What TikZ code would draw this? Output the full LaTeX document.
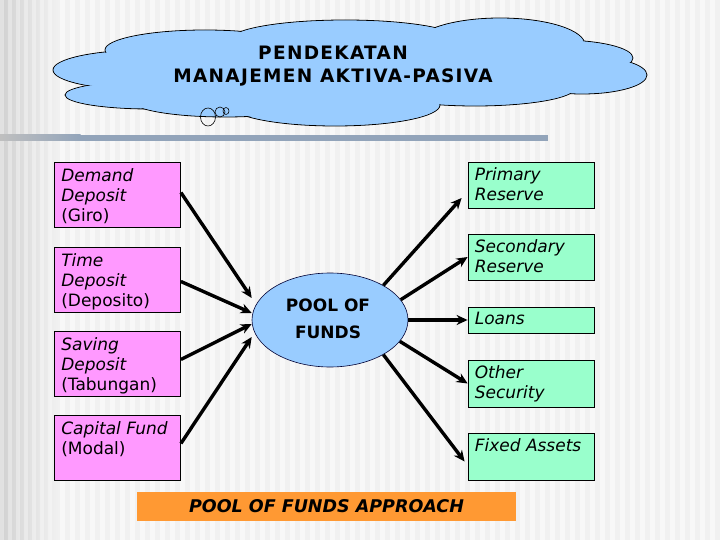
\documentclass[tikz,border=0pt]{standalone}
\usepackage{fontspec}
\setmainfont{DejaVu Sans}
\newfontfamily\titlefont[LetterSpace=7]{DejaVu Sans}
\usetikzlibrary{arrows.meta,shapes.geometric}
\definecolor{pinkbox}{HTML}{FF99FF}
\definecolor{greenbox}{HTML}{99FFCC}
\definecolor{bluefill}{HTML}{99CCFF}
\definecolor{orangec}{HTML}{FF9933}
\definecolor{bgbase}{HTML}{F1F1F1}
\definecolor{bgstripe}{HTML}{F8F8F8}
\definecolor{barc}{RGB}{146,164,186}
\tikzset{
  lbox/.style={draw=black, line width=0.8pt, fill=pinkbox, minimum width=126pt, inner sep=0pt},
  rbox/.style={draw=black, line width=0.8pt, fill=greenbox, minimum width=126pt, inner sep=0pt},
  boxtext/.style={anchor=north west, inner sep=0pt, align=left, font=\fontsize{17}{20}\selectfont},
  arr/.style={line width=3.4pt, -{Stealth[length=11pt,width=10pt]}},
  cloudline/.style={draw=black, line width=0.8pt, fill=bluefill},
}
\begin{document}
\begin{tikzpicture}[x=1pt,y=-1pt]
\useasboundingbox (0,0) rectangle (720,540);
% background
\fill[bgbase] (0,0) rectangle (720,540);
\foreach \x in {0,10,...,710} { \fill[bgstripe] (\x,0) rectangle (\x+5,540); }
\fill[left color=black!18, right color=bgbase] (0,0) rectangle (58,540);
\foreach \x in {0,8,...,50} { \fill[white, opacity=0.35] (\x,0) rectangle (\x+4,540); }
\fill[left color=black!25, right color=barc] (0,135) rectangle (80.5,141);
\fill[barc] (80,135) rectangle (548,141);
% cloud
\foreach \cx/\cy/\rx/\ry in {145/70/92/20, 150/95/85/14, 205/50/100/20, 345/40/115/20, 500/45/85/27, 560/58/73/18, 582/75/65/19, 475/88/100/18, 335/105/105/21, 225/100/95/17}
  { \draw[cloudline] (\cx,\cy) ellipse [x radius=\rx pt, y radius=\ry pt]; }
\foreach \cx/\cy/\rx/\ry in {145/70/92/20, 150/95/85/14, 205/50/100/20, 345/40/115/20, 500/45/85/27, 560/58/73/18, 582/75/65/19, 475/88/100/18, 335/105/105/21, 225/100/95/17}
  { \fill[bluefill] (\cx,\cy) ellipse [x radius=\rx pt-0.9pt, y radius=\ry pt-0.9pt]; }
\fill[bluefill] (340,68) ellipse [x radius=205pt, y radius=30pt];
\draw[line width=0.6pt] (208,117) ellipse [x radius=7.5pt, y radius=9pt];
\draw[line width=0.6pt] (220,112) ellipse [x radius=5pt, y radius=5pt];
\draw[line width=0.6pt] (226,111) ellipse [x radius=3pt, y radius=3.5pt];
\node[anchor=north, inner sep=0pt, align=center, font=\titlefont\bfseries\fontsize{18.5}{23.5}\selectfont] (title) at (333,45.5) {PENDEKATAN\\MANAJEMEN AKTIVA-PASIVA};
% left boxes
\node[lbox, minimum height=65pt] (dd) at (117.5,194.5) {};
\node[lbox, minimum height=65pt] (td) at (117.5,279.5) {};
\node[lbox, minimum height=65pt] (sd) at (117.5,363.5) {};
\node[lbox, minimum height=65pt] (cf) at (117.5,447.5) {};
\node[boxtext] (ddt) at ([shift={(7,6.5)}]dd.north west) {\itshape Demand\\\itshape Deposit\\(Giro)};
\node[boxtext] (tdt) at ([shift={(7,6.5)}]td.north west) {\itshape Time\\\itshape Deposit\\(Deposito)};
\node[boxtext] (sdt) at ([shift={(7,6.5)}]sd.north west) {\itshape Saving\\\itshape Deposit\\(Tabungan)};
\node[boxtext] (cft) at ([shift={(7,6.5)}]cf.north west) {\itshape Capital Fund\\(Modal)};
% right boxes
\node[rbox, minimum height=46pt] (pr) at (531,185) {};
\node[rbox, minimum height=46pt] (sr) at (531,257) {};
\node[rbox, minimum height=26pt] (lo) at (531,320) {};
\node[rbox, minimum height=47pt] (os) at (531,383.5) {};
\node[rbox, minimum height=47pt] (fa) at (531,456.5) {};
\node[boxtext] (prt) at ([shift={(7,6)}]pr.north west) {\itshape Primary\\\itshape Reserve};
\node[boxtext] (srt) at ([shift={(7,5.5)}]sr.north west) {\itshape Secondary\\\itshape Reserve};
\node[boxtext] (lot) at ([shift={(7,5)}]lo.north west) {\itshape Loans};
\node[boxtext] (ost) at ([shift={(7,6)}]os.north west) {\itshape Other\\\itshape Security};
\node[boxtext] (fat) at ([shift={(7,6)}]fa.north west) {\itshape Fixed Assets};
% pool
\node[ellipse, draw=black!80!blue, line width=0.6pt, fill=bluefill, minimum width=156pt, minimum height=94pt, inner sep=0pt] (pool) at (330,320) {};
\node[anchor=north, inner sep=0pt, align=center, font=\bfseries\fontsize{17}{27}\selectfont] (poolt) at (328,298.5) {POOL OF\\FUNDS};
% arrows in
\draw[arr] ([yshift=2pt]dd.east) -- ([yshift=22pt]pool.west);
\draw[arr] ([yshift=-2pt]td.east) -- ([yshift=7pt]pool.west);
\draw[arr] ([yshift=4pt]sd.east) -- ([yshift=-4pt]pool.west);
\draw[arr] ([yshift=4pt]cf.east) -- ([yshift=-17pt]pool.west);
% arrows out
\draw[arr] (pool.33) -- ([shift={(-6,13)}]pr.west);
\draw[arr] (pool.16) -- (sr.west);
\draw[arr] (pool.east) -- (lo.west);
\draw[arr] (pool.-17) -- (os.west);
\draw[arr] (pool.-33) -- ([shift={(-3,5)}]fa.west);
% banner
\node[fill=orangec, minimum width=379pt, minimum height=29pt, inner sep=0pt, font=\bfseries\itshape\fontsize{17.5}{20}\selectfont] (ban) at (326.5,506.5) {POOL OF FUNDS APPROACH};
\end{tikzpicture}
\end{document}
